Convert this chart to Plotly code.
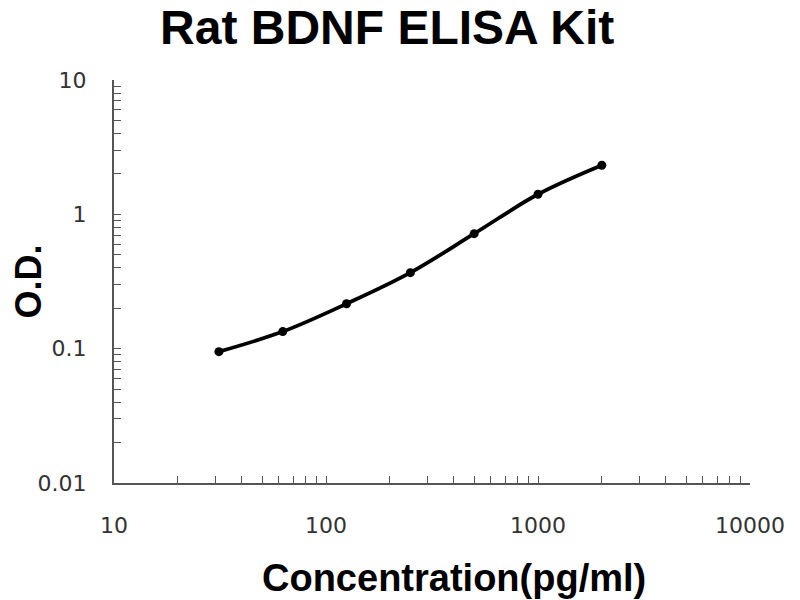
import plotly.graph_objects as go

conc = [31.25, 62.5, 125, 250, 500, 1000, 2000]
od = [0.095, 0.134, 0.216, 0.368, 0.718, 1.41, 2.32]

x_ticks = [10, 100, 1000, 10000]
x_labels = ['10', '100', '1000', '10000']
y_ticks = [0.01, 0.1, 1, 10]
y_labels = ['0.01', '0.1', '1', '10']

fig = go.Figure(go.Scatter(
    x=conc, y=od,
    mode='lines+markers',
    line=dict(color='black', width=3.8, shape='spline'),
    marker=dict(color='black', size=9),
    showlegend=False,
))

# page body has an 8px margin, so the plot box is shifted back by that
fig.update_layout(
    width=800, height=600,
    paper_bgcolor='white', plot_bgcolor='white',
    margin=dict(l=106, r=58, t=72, b=125),
    font=dict(family='Liberation Sans, Arial', color='black'),
    title=dict(text='<b>Rat BDNF ELISA Kit</b>', x=0.474, xanchor='center',
               y=0.968, yanchor='middle', font=dict(size=48, color='black')),
    # x title sits right of the plot centre in the reference, so use an annotation
    annotations=[dict(
        text='<b>Concentration(pg/ml)</b>', xref='paper', yref='paper',
        x=0.5346, y=-0.236, xanchor='center', yanchor='middle',
        showarrow=False, font=dict(size=38, color='black'),
    )],
)

tick_font = dict(size=22, family='DejaVu Sans', color='#333')

fig.update_xaxes(
    type='log', range=[1, 4], automargin=False,
    tickvals=x_ticks, ticktext=x_labels,
    ticks='inside', ticklen=7, tickcolor='#555',
    minor=dict(ticks='inside', ticklen=7, tickcolor='#555', dtick='D1', showgrid=False),
    showline=True, linecolor='#555', linewidth=2,
    showgrid=False, zeroline=False,
    tickfont=tick_font, ticklabelstandoff=22,
)
fig.update_yaxes(
    type='log', range=[-2, 1], automargin=False,
    tickvals=y_ticks, ticktext=y_labels,
    ticks='inside', ticklen=7, tickcolor='#555',
    minor=dict(ticks='inside', ticklen=7, tickcolor='#555', dtick='D1', showgrid=False),
    showline=True, linecolor='#555', linewidth=2,
    showgrid=False, zeroline=False,
    tickfont=tick_font, ticklabelstandoff=21,
    title=dict(text='<b>O.D.</b>', font=dict(size=36), standoff=6),
)

fig.write_html('out.html')
